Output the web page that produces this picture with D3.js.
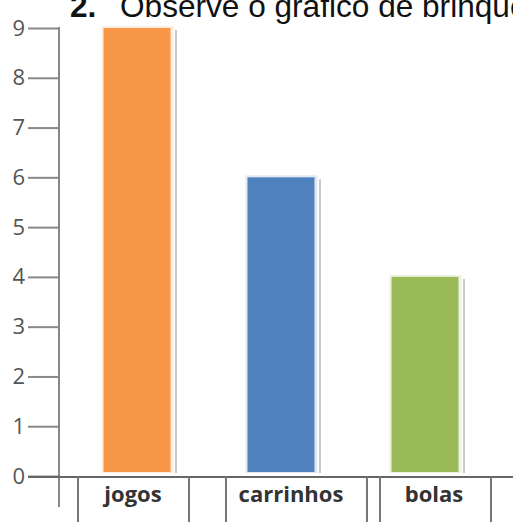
<!DOCTYPE html>
<html lang="pt">
<head>
    <meta charset="UTF-8">
    <title>Gráfico de brinquedos</title>
    <script src="https://d3js.org/d3.v7.min.js"></script>
    <style>
        body { margin: 0; background: #fff; overflow: hidden; }
        svg { display: block; }
        .title { font-family: "Liberation Sans", Arial, sans-serif; font-size: 31.6px; fill: #111; }
        .y-axis text { font-family: "Open Sans", sans-serif; font-size: 22px; fill: #555; }
        .y-axis line, .y-axis path { stroke: #888; stroke-width: 2; }
        .cat-label { font-family: "Open Sans", sans-serif; font-size: 22px; font-weight: bold; fill: #333; text-anchor: middle; }
    </style>
</head>
<body>
<svg id="chart" width="513" height="522"></svg>
<script>
    const categories = ["jogos", "carrinhos", "bolas"];
    const values = [9, 6, 4];
    const yTicks = [0, 1, 2, 3, 4, 5, 6, 7, 8, 9];
    const colors = ["#F79646", "#4F81BD", "#9BBB59"];

    const width = 513, height = 522;
    const axisX = 59;
    // vertical lines of the label table under the chart, and label centres
    const tableLines = [78, 189, 226, 367, 380, 491];
    const labelX = [133, 291, 434];

    const svg = d3.select("#chart");

    const x = d3.scaleBand()
        .domain(categories)
        .range([65, 497])
        .paddingInner(0.535)
        .paddingOuter(0.2675);

    const y = d3.scaleLinear().domain([0, 9]).range([476, 28]);

    // title (cut off by the picture edge, as in the original scan)
    svg.append("text").attr("class", "title")
        .attr("x", 70).attr("y", 17)
        .style("font-weight", "bold")
        .text("2.");
    svg.append("text").attr("class", "title")
        .attr("x", 120).attr("y", 17)
        .text("Observe o gráfico de brinquedos");

    // bars with a soft shadow
    const bars = svg.append("g");
    categories.forEach((c, i) => {
        const x0 = x(c), bw = x.bandwidth();
        bars.append("rect")
            .attr("x", x0 - 2).attr("y", y(values[i]) - 2)
            .attr("width", bw + 5).attr("height", y(0) - y(values[i]) - 1)
            .attr("fill", colors[i]).attr("opacity", 0.18);
        bars.append("line")
            .attr("x1", x0 + bw + 5.5).attr("x2", x0 + bw + 5.5)
            .attr("y1", y(values[i]) + 2).attr("y2", y(0) - 3)
            .attr("stroke", "#c8c8c8").attr("stroke-width", 2);
        bars.append("rect")
            .attr("x", x0).attr("y", y(values[i]))
            .attr("width", bw).attr("height", y(0) - y(values[i]) - 4)
            .attr("fill", colors[i]);
    });

    // y axis
    const yAxis = svg.append("g")
        .attr("class", "y-axis")
        .attr("transform", `translate(${axisX},0)`)
        .call(d3.axisLeft(y).tickValues(yTicks).tickSize(31).tickPadding(3).tickSizeOuter(0));
    yAxis.select(".domain").remove();
    yAxis.append("line")
        .attr("x1", 0).attr("x2", 0)
        .attr("y1", y(9) - 1).attr("y2", 507);

    // baseline
    svg.append("line")
        .attr("x1", 28).attr("x2", width)
        .attr("y1", y(0) + 1).attr("y2", y(0) + 1)
        .attr("stroke", "#666").attr("stroke-width", 2);

    // label table
    svg.append("g").selectAll("line")
        .data(tableLines)
        .join("line")
        .attr("x1", d => d).attr("x2", d => d)
        .attr("y1", y(0) + 1).attr("y2", height)
        .attr("stroke", "#777").attr("stroke-width", 2);

    svg.append("g").selectAll("text")
        .data(categories)
        .join("text")
        .attr("class", "cat-label")
        .attr("x", (d, i) => labelX[i])
        .attr("y", 502)
        .text(d => d);
</script>
</body>
</html>
